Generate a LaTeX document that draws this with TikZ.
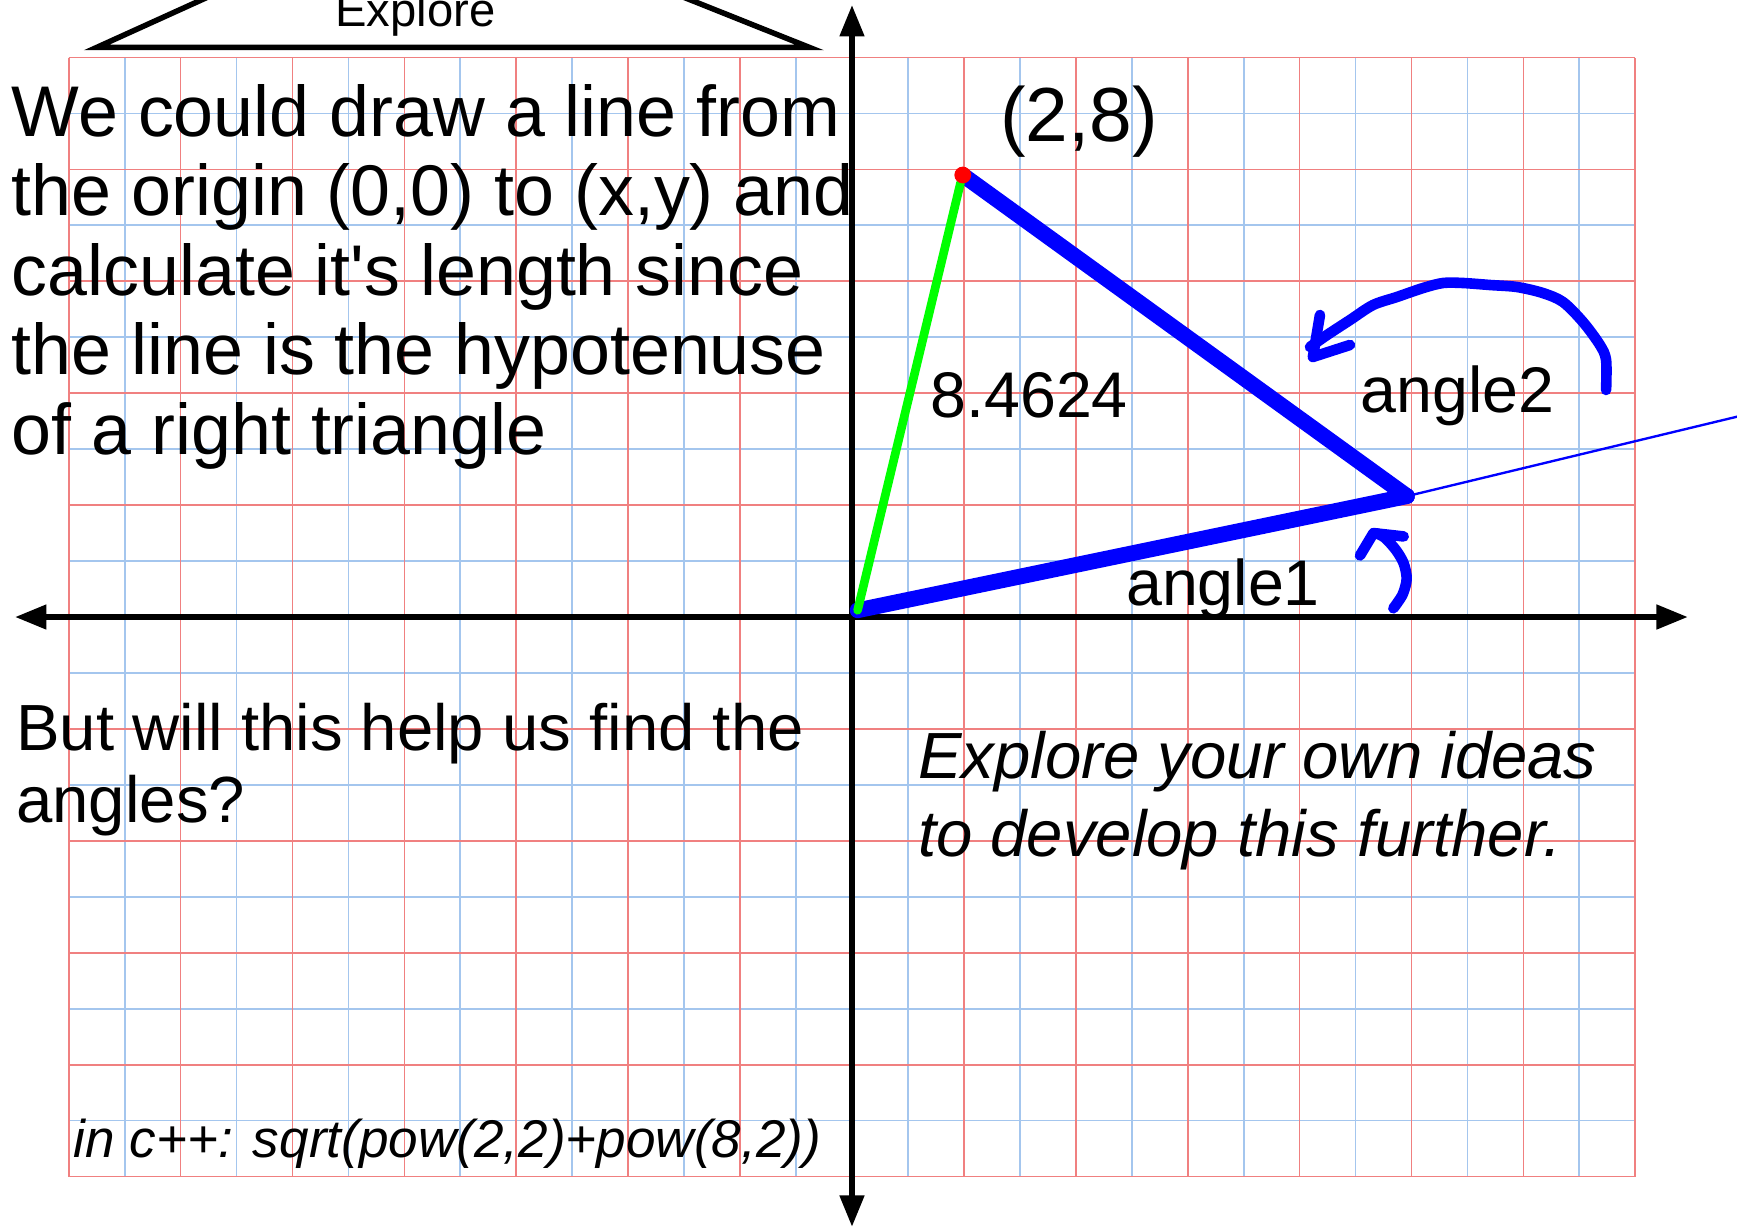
\documentclass[tikz,border=0pt]{standalone}
\usepackage{fontspec}
\setmainfont{Liberation Sans}[Ligatures=TeXOff]
\setsansfont{Liberation Sans}[Ligatures=TeXOff]
\usepackage{tikz}
\usetikzlibrary{arrows.meta}
\usepackage{xcolor}
\definecolor{gridred}{RGB}{240,128,128}
\definecolor{gridblue}{RGB}{164,198,238}
\tikzset{
  majorgrid/.style={draw=gridred, line width=0.45pt},
  minorgrid/.style={draw=gridblue, line width=0.45pt},
  axis/.style={{Triangle[length=8pt,width=6pt]}-{Triangle[length=8pt,width=6pt]}, line width=1.5pt},
  tab/.style={draw=black, line width=1.4pt, line join=miter},
  side/.style={draw=blue, line width=4pt, line cap=round},
  leg/.style={draw=green, line width=2.2pt, line cap=round},
  ray/.style={draw=blue, line width=0.6pt},
  scribble/.style={draw=blue, line width=2.7pt, line cap=round, line join=round},
  tabtext/.style={font=\fontsize{12}{14}\selectfont, inner sep=0pt, anchor=base},
  bigtext/.style={font=\fontsize{18.25}{20.2}\selectfont, align=left, inner sep=0pt, anchor=base west},
  midtext/.style={font=\fontsize{16.6}{18.3}\selectfont, align=left, inner sep=0pt, anchor=base west},
  ideatext/.style={font=\fontsize{16.6}{19.7}\selectfont\itshape, align=left, inner sep=0pt, anchor=base west},
  codetext/.style={font=\fontsize{13.5}{16}\selectfont\itshape, inner sep=0pt, anchor=base west},
  pointtext/.style={font=\fontsize{19.5}{22}\selectfont, inner sep=0pt, anchor=base},
  valuetext/.style={font=\fontsize{16.4}{19}\selectfont, inner sep=0pt, anchor=base}
}
\begin{document}
\begin{tikzpicture}
\useasboundingbox (-7.614,-5.469) rectangle (7.909,5.514);
% graph paper
\draw[minorgrid] (-7,-5) grid[step=0.5] (7,5);
\draw[majorgrid] (-7,-5) grid[step=1] (7,5);
% title tab
\draw[tab] (-6.75,5.09) -- (-0.38,5.09) -- (-2.659,6) -- (-4.743,6) -- cycle;
\node[tabtext] (title) at (-3.902,5.276) {Explore};
% axes
\coordinate (xmin) at (-7.48,0);
\coordinate (xmax) at (7.47,0);
\coordinate (ymin) at (0,-5.45);
\coordinate (ymax) at (0,5.47);
\draw[axis] (xmin) -- (xmax);
\draw[axis] (ymin) -- (ymax);
% triangle
\coordinate (O) at (0.05,0.06);
\coordinate (P) at (0.99,3.95);
\coordinate (Ptop) at (0.97,3.88);
\coordinate (Q) at (4.96,1.08);
\coordinate (far) at (7.95,1.80);
\draw[ray] (Q) -- (far);
\draw[side] (O) -- (Q);
\draw[side] (P) -- (Q);
\draw[leg] (O) -- (Ptop);
\fill[red] (P) circle (0.075);
% hand drawn angle marks
\draw[scribble] plot[smooth] coordinates {(6.739,2.029) (6.739,2.297) (6.684,2.431) (6.533,2.636) (6.354,2.815) (6.175,2.895) (5.943,2.949) (5.702,2.967) (5.460,2.985) (5.282,2.985) (5.103,2.940) (4.870,2.860) (4.656,2.788) (4.450,2.654) (4.245,2.520) (4.093,2.413)};
\draw[scribble] (4.182,2.699) -- (4.119,2.324) -- (4.450,2.431);
\draw[scribble] plot[smooth] coordinates {(4.838,0.078) (4.920,0.200) (4.957,0.340) (4.930,0.480) (4.860,0.600) (4.760,0.710) (4.680,0.750)};
\draw[scribble] (4.54,0.55) -- (4.66,0.75) -- (4.93,0.72);
% labels
\node[pointtext] (ptlabel) at (2.03,4.247) {(2,8)};
\node[valuetext] (length) at (1.583,1.782) {8.4624};
\node[valuetext] (angletwo) at (5.409,1.829) {angle2};
\node[valuetext] (angleone) at (3.316,0.107) {angle1};
% notes (base = last line)
\node[bigtext] (intro) at (-7.515,1.455) {We could draw a line from\\the origin (0,0) to (x,y) and\\calculate it's length since\\the line is the hypotenuse\\of a right triangle};
\node[midtext] (question) at (-7.475,-1.832) {But will this help us find the\\angles?};
\node[ideatext] (further) at (0.584,-2.139) {Explore your own ideas\\to develop this further.};
\node[codetext] (cpp) at (-6.96,-4.83) {in c++: sqrt(pow(2,2)+pow(8,2))};
\end{tikzpicture}
\end{document}
